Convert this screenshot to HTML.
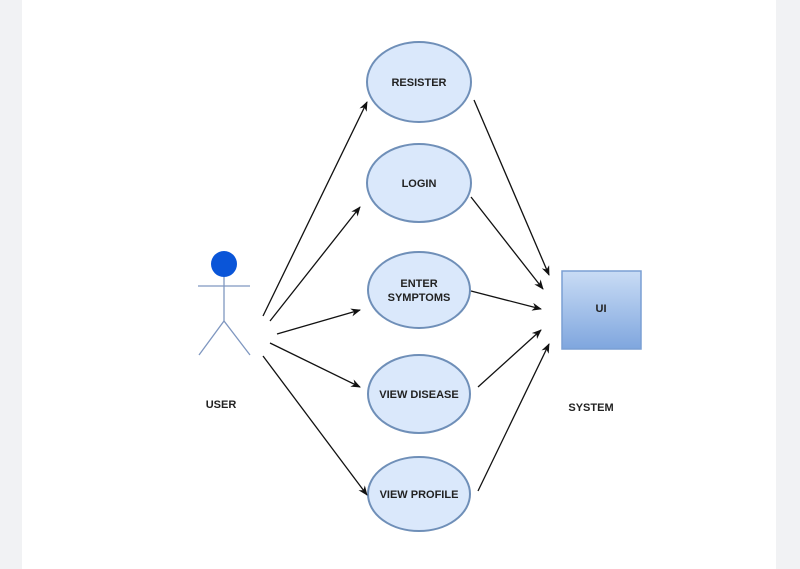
<!DOCTYPE html>
<html><head><style>
html,body{margin:0;padding:0;background:#f1f2f4;}
svg{display:block}
text{font-family:"Liberation Sans",Arial,sans-serif;font-weight:bold;font-size:11px;fill:#222;text-anchor:middle}
</style></head><body>
<svg width="800" height="569" viewBox="0 0 800 569">
<defs>
<marker id="a" markerWidth="10" markerHeight="8" refX="9" refY="4" orient="auto" markerUnits="userSpaceOnUse">
<path d="M0,0 L10,4 L0,8 L3,4 Z" fill="#111"/></marker>
<linearGradient id="g" x1="0" y1="0" x2="0" y2="1"><stop offset="0" stop-color="#c9dcf5"/><stop offset="1" stop-color="#7fa6de"/></linearGradient>
</defs>
<rect x="22" y="0" width="754" height="569" fill="#fff"/>
<g stroke="#6f8fb8" stroke-width="2" fill="#dae8fb">
<ellipse cx="419" cy="82" rx="52" ry="40"/>
<ellipse cx="419" cy="183" rx="52" ry="39"/>
<ellipse cx="419" cy="290" rx="51" ry="38"/>
<ellipse cx="419" cy="394" rx="51" ry="39"/>
<ellipse cx="419" cy="494" rx="51" ry="37"/>
</g>
<rect x="562" y="271" width="79" height="78" fill="url(#g)" stroke="#7a9fd4" stroke-width="1.5"/>
<circle cx="224" cy="264" r="13" fill="#0a55d8"/>
<g stroke="#7f97c0" stroke-width="1.3" fill="none">
<line x1="198" y1="286" x2="250" y2="286"/>
<line x1="224" y1="277" x2="224" y2="321"/>
<polyline points="199,355 224,321 250,355"/>
</g>
<g stroke="#111" stroke-width="1.3" marker-end="url(#a)">
<line x1="263" y1="316" x2="367" y2="102"/>
<line x1="270" y1="321" x2="360" y2="207"/>
<line x1="277" y1="334" x2="360" y2="310"/>
<line x1="270" y1="343" x2="360" y2="387"/>
<line x1="263" y1="356" x2="367" y2="495"/>
<line x1="474" y1="100" x2="549" y2="275"/>
<line x1="471" y1="197" x2="543" y2="289"/>
<line x1="471" y1="291" x2="541" y2="309"/>
<line x1="478" y1="387" x2="541" y2="330"/>
<line x1="478" y1="491" x2="549" y2="344"/>
</g>
<text x="419" y="86">RESISTER</text>
<text x="419" y="187">LOGIN</text>
<text x="419" y="287">ENTER</text>
<text x="419" y="301">SYMPTOMS</text>
<text x="419" y="398">VIEW DISEASE</text>
<text x="419" y="498">VIEW PROFILE</text>
<text x="601" y="312">UI</text>
<text x="221" y="408">USER</text>
<text x="591" y="411">SYSTEM</text>
</svg>
</body></html>
